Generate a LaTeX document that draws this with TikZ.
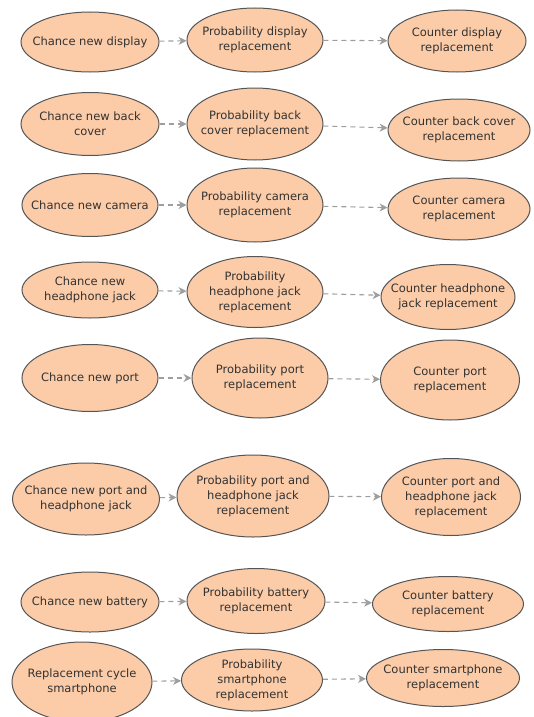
\documentclass[tikz,border=0pt]{standalone}
\usepackage{fontspec}
\setmainfont{DejaVu Sans}
\usetikzlibrary{shapes.geometric,arrows.meta}
\definecolor{peach}{RGB}{252,204,168}
\definecolor{rim}{RGB}{85,85,85}
\definecolor{dashgray}{RGB}{158,158,158}
\definecolor{ink}{RGB}{50,50,50}
\begin{document}
\begin{tikzpicture} [
   x=1pt, y=-1pt,
   n/.style={ellipse, draw=rim, line width=1pt, fill=peach, inner xsep=-12pt, inner ysep=0pt,
      align=center, text=ink, font=\fontsize{11.5}{15}\selectfont},
   a/.style={draw=dashgray, line width=1.1pt, dash pattern=on 5pt off 4pt,
      -{Stealth[length=8pt,width=8pt,inset=2.5pt]}}
]
   \useasboundingbox (0,0) rectangle (533,717);
   % display
   \node (C1) [n, minimum width=138pt, minimum height=60pt] at (90,42) {Chance new display};
   \node (P1) [n, minimum width=136pt, minimum height=64pt] at (255,40) {Probability display\\replacement};
   \node (K1) [n, minimum width=138pt, minimum height=62pt] at (457,41) {Counter display\\replacement};
   % back cover
   \node (C2) [n, minimum width=138pt, minimum height=63pt] at (90,124) {Chance new back\\cover};
   \node (P2) [n, minimum width=136pt, minimum height=72pt] at (255,124) {Probability back\\cover replacement};
   \node (K2) [n, minimum width=142pt, minimum height=62pt] at (459,130) {Counter back cover\\replacement};
   % camera
   \node (C3) [n, minimum width=136pt, minimum height=63pt] at (90,205) {Chance new camera};
   \node (P3) [n, minimum width=136pt, minimum height=74pt] at (255,205) {Probability camera\\replacement};
   \node (K3) [n, minimum width=142pt, minimum height=62pt] at (459,209) {Counter camera\\replacement};
   % headphone jack
   \node (C4) [n, minimum width=136pt, minimum height=56pt] at (90,290) {Chance new\\headphone jack};
   \node (P4) [n, minimum width=136pt, minimum height=71pt] at (255,292) {Probability\\headphone jack\\replacement};
   \node (K4) [n, minimum width=134pt, minimum height=65pt] at (448,297) {Counter headphone\\jack replacement};
   % port
   \node (C5) [n, minimum width=136pt, minimum height=67pt] at (90,378) {Chance new port};
   \node (P5) [n, minimum width=136pt, minimum height=80pt] at (260,378) {Probability port\\replacement};
   \node (K5) [n, minimum width=139pt, minimum height=80pt] at (450,380) {Counter port\\replacement};
   % port and headphone jack
   \node (C6) [n, minimum width=147pt, minimum height=72pt] at (86,499) {Chance new port and\\headphone jack};
   \node (P6) [n, minimum width=152pt, minimum height=82pt] at (253,496) {Probability port and\\headphone jack\\replacement};
   \node (K6) [n, minimum width=139pt, minimum height=77pt] at (451,497) {Counter port and\\headphone jack\\replacement};
   % battery
   \node (C7) [n, minimum width=138pt, minimum height=60pt] at (90,602) {Chance new battery};
   \node (P7) [n, minimum width=138pt, minimum height=65pt] at (256,601) {Probability battery\\replacement};
   \node (K7) [n, minimum width=151pt, minimum height=55pt] at (448,604) {Counter battery\\replacement};
   % smartphone
   \node (C8) [n, minimum width=140pt, minimum height=80pt] at (82,682) {Replacement cycle\\smartphone};
   \node (P8) [n, minimum width=141pt, minimum height=62pt] at (252,680) {Probability\\smartphone\\replacement};
   \node (K8) [n, minimum width=153pt, minimum height=57pt] at (443,678) {Counter smartphone\\replacement};
   \foreach \i in {1,...,8} {
      \path (C\i) edge [a] (P\i)
            (P\i) edge [a] (K\i);
   }
\end{tikzpicture}
\end{document}
